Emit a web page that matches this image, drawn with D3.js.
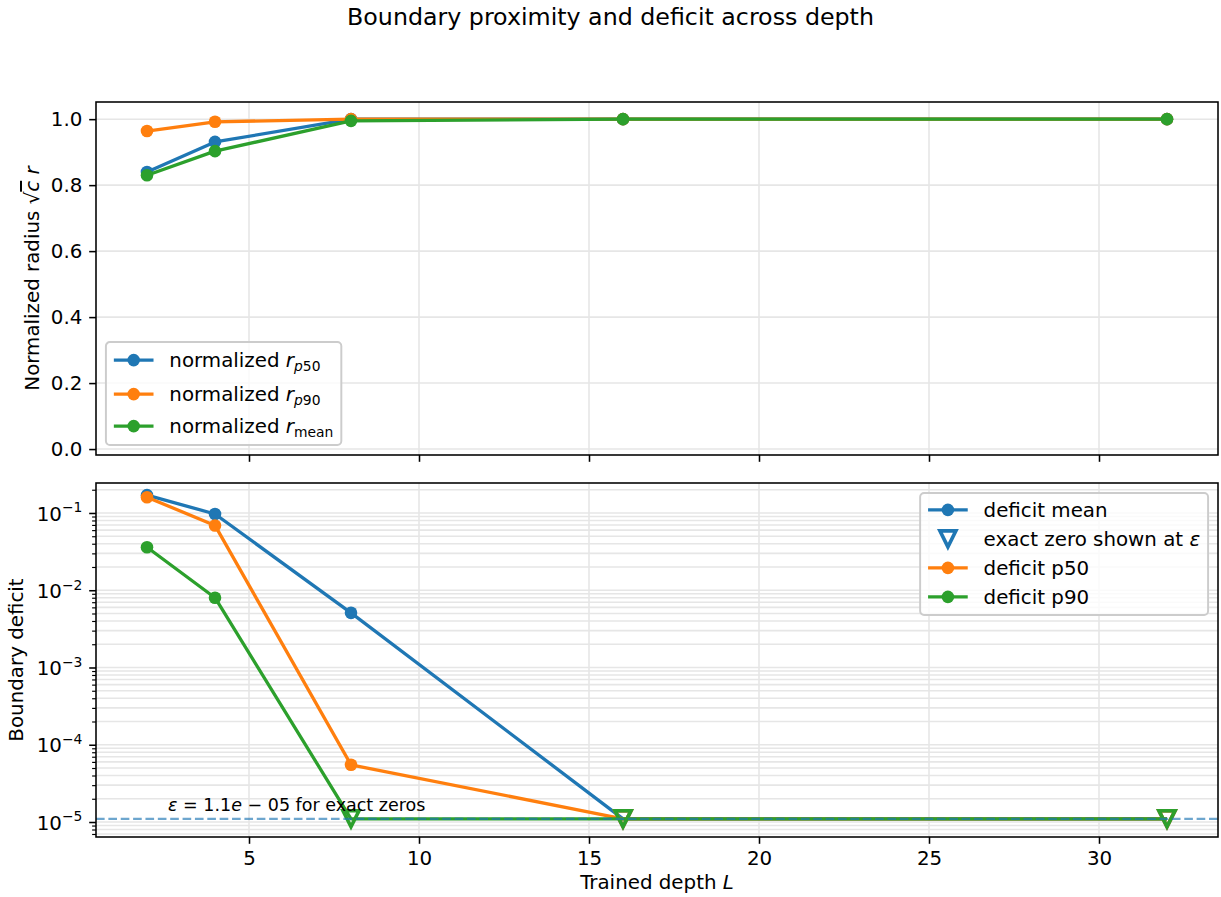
<!DOCTYPE html>
<html>
<head>
<meta charset="utf-8">
<script src="https://cdn.jsdelivr.net/npm/d3@7"></script>
<style>
  body { margin: 0; background: #fff; }
  text { font-family: "DejaVu Sans", sans-serif; fill: #000; }
</style>
</head>
<body>
<svg id="chart" width="1221" height="897"></svg>
<script>
// ---- data ----
const depths = [2, 4, 8, 16, 32];
const radiusP50 = [0.840, 0.931, 0.99995, 1.0, 1.0];
const radiusP90 = [0.964, 0.992, 1.0, 1.0, 1.0];
const radiusMean = [0.830, 0.903, 0.9949, 1.0, 1.0];
// exact zeros are drawn at epsilon
const deficitMean = [0.170, 0.097, 0.0051, 0, 0];
const deficitP50 = [0.160, 0.069, 5.5e-5, 0, 0];
const deficitP90 = [0.036, 0.0080, 0, 0, 0];
const epsilon = 1.1e-5;
const xTicks = [5, 10, 15, 20, 25, 30];
const radiusTicks = [0.0, 0.2, 0.4, 0.6, 0.8, 1.0];
const deficitTicks = [1e-5, 1e-4, 1e-3, 1e-2, 1e-1];
const colors = ["#1f77b4", "#ff7f0e", "#2ca02c"];

// ---- layout ----
const svg = d3.select("#chart");
const W = 1221, H = 897;
const left = 96, right = 1218;
const top1 = 102, bot1 = 455, top2 = 483, bot2 = 837;
const pt = 140 / 72;            // pixels per point
const fs = 10.2 * pt;           // base font size
const lw = 3.3, spineW = 0.8 * pt;
const markerR = 6.3;
const gridColor = "#e6e6e6";

const x = d3.scaleLinear().domain([0.5, 33.5]).range([left, right]);
const yR = d3.scaleLinear().domain([-0.018, 1.052]).range([bot1, top1]);
const yD = d3.scaleLog().domain([Math.pow(10, -5.194), Math.pow(10, -0.612)]).range([bot2, top2]);

// minor log ticks inside the visible range
const [dLo, dHi] = yD.domain();
const minorTicks = [];
for (let e = -6; e <= 0; e++) {
  for (let m = 2; m <= 9; m++) {
    const v = m * Math.pow(10, e);
    if (v >= dLo && v <= dHi) minorTicks.push(v);
  }
}

// ---- grids ----
const grid = svg.append("g").attr("stroke", gridColor).attr("stroke-width", 0.8 * pt);
[[top1, bot1], [top2, bot2]].forEach(([t, b]) => {
  grid.selectAll(null).data(xTicks).join("line")
    .attr("x1", d => x(d)).attr("x2", d => x(d)).attr("y1", t).attr("y2", b);
});
grid.selectAll(null).data(radiusTicks).join("line")
  .attr("x1", left).attr("x2", right).attr("y1", d => yR(d)).attr("y2", d => yR(d));
grid.selectAll(null).data(deficitTicks.concat(minorTicks)).join("line")
  .attr("x1", left).attr("x2", right).attr("y1", d => yD(d)).attr("y2", d => yD(d));

// ---- marker helpers ----
const tri = 8; // half size of the downward triangle
const triStroke = 3.6;
function triPath(cx, cy) {
  return `M${cx - tri},${cy - tri}L${cx + tri},${cy - tri}L${cx},${cy + tri}Z`;
}

// ---- top panel: normalized radius ----
const radiusSeries = [radiusP50, radiusP90, radiusMean];
const lineR = d3.line().x((d, i) => x(depths[i])).y(d => yR(d));
radiusSeries.forEach((vals, k) => {
  const g = svg.append("g");
  g.append("path").attr("d", lineR(vals)).attr("fill", "none")
    .attr("stroke", colors[k]).attr("stroke-width", lw).attr("stroke-linejoin", "round");
  g.selectAll("circle").data(vals).join("circle")
    .attr("cx", (d, i) => x(depths[i])).attr("cy", d => yR(d))
    .attr("r", markerR).attr("fill", colors[k]);
});

// ---- bottom panel: boundary deficit ----
const deficitSeries = [deficitMean, deficitP50, deficitP90];
const lineD = d3.line().x((d, i) => x(depths[i])).y(d => yD(d > 0 ? d : epsilon));
deficitSeries.forEach((vals, k) => {
  const g = svg.append("g");
  g.append("path").attr("d", lineD(vals)).attr("fill", "none")
    .attr("stroke", colors[k]).attr("stroke-width", lw).attr("stroke-linejoin", "round");
  const pts = vals.map((v, i) => ({ v, d: depths[i] }));
  g.selectAll("circle").data(pts.filter(p => p.v > 0)).join("circle")
    .attr("cx", p => x(p.d)).attr("cy", p => yD(p.v))
    .attr("r", markerR).attr("fill", colors[k]);
  g.selectAll("path.zero").data(pts.filter(p => p.v === 0)).join("path")
    .attr("class", "zero")
    .attr("d", p => triPath(x(p.d), yD(epsilon)))
    .attr("fill", "none").attr("stroke", colors[k]).attr("stroke-width", triStroke)
    .attr("stroke-linejoin", "miter");
});

// epsilon reference line
svg.append("line")
  .attr("x1", left).attr("x2", right).attr("y1", yD(epsilon)).attr("y2", yD(epsilon))
  .attr("stroke", colors[0]).attr("stroke-opacity", 0.65).attr("stroke-width", 1.2 * pt)
  .attr("stroke-dasharray", `${3.7 * 1.2 * pt},${1.6 * 1.2 * pt}`);

// epsilon annotation
const ann = svg.append("text")
  .attr("x", x(2.62)).attr("y", yD(epsilon * 1.28))
  .attr("font-size", 9 * pt);
ann.append("tspan").attr("font-style", "italic").text("ε");
ann.append("tspan").text(" = 1.1");
ann.append("tspan").attr("font-style", "italic").text("e");
ann.append("tspan").text(" − 05 for exact zeros");

// ---- axes ----
function styleAxis(g) {
  g.attr("font-family", "DejaVu Sans").attr("font-size", fs);
  g.select(".domain").remove();
  g.selectAll(".tick line").attr("stroke", "#000").attr("stroke-width", spineW);
  g.selectAll(".tick text").attr("fill", "#000");
}
const tickLen = 3.5 * pt, tickPad = 3.5 * pt;

// top panel x ticks (no labels)
svg.append("g").attr("transform", `translate(0,${bot1})`)
  .call(d3.axisBottom(x).tickValues(xTicks).tickSize(tickLen).tickFormat(""))
  .call(styleAxis);
// top panel y
svg.append("g").attr("transform", `translate(${left},0)`)
  .call(d3.axisLeft(yR).tickValues(radiusTicks).tickSize(tickLen).tickPadding(tickPad).tickFormat(d3.format(".1f")))
  .call(styleAxis);
// bottom panel x
svg.append("g").attr("transform", `translate(0,${bot2})`)
  .call(d3.axisBottom(x).tickValues(xTicks).tickSize(tickLen).tickPadding(tickPad).tickFormat(d3.format("d")))
  .call(styleAxis);
// bottom panel y (log) minor ticks
svg.append("g").attr("transform", `translate(${left},0)`)
  .call(d3.axisLeft(yD).tickValues(minorTicks).tickSize(2 * pt).tickFormat(""))
  .call(styleAxis)
  .call(g => g.selectAll(".tick line").attr("stroke-width", 0.6 * pt));
// bottom panel y (log) major ticks with superscript labels
const yDAxis = svg.append("g").attr("transform", `translate(${left},0)`)
  .call(d3.axisLeft(yD).tickValues(deficitTicks).tickSize(tickLen).tickPadding(tickPad).tickFormat(""))
  .call(styleAxis);
yDAxis.selectAll(".tick text").each(function (d) {
  const t = d3.select(this);
  const e = Math.round(Math.log10(d));
  t.text(null).attr("dy", "0.36em");
  t.append("tspan").text("10");
  t.append("tspan").attr("font-size", fs * 0.7).attr("dy", -0.42 * fs)
    .text((e < 0 ? "−" : "") + Math.abs(e));
});

// spines
[[top1, bot1], [top2, bot2]].forEach(([t, b]) => {
  svg.append("rect").attr("x", left).attr("y", t).attr("width", right - left).attr("height", b - t)
    .attr("fill", "none").attr("stroke", "#000").attr("stroke-width", spineW);
});

// ---- labels ----
svg.append("text").attr("x", W / 2).attr("y", 25).attr("text-anchor", "middle")
  .attr("font-size", 12.2 * pt).text("Boundary proximity and deficit across depth");

svg.append("text").attr("x", (left + right) / 2).attr("y", 889).attr("text-anchor", "middle")
  .attr("font-size", fs)
  .call(t => {
    t.append("tspan").text("Trained depth ");
    t.append("tspan").attr("font-style", "italic").text("L");
  });

const yl1 = svg.append("text")
  .attr("transform", `translate(39,${(top1 + bot1) / 2}) rotate(-90)`)
  .attr("text-anchor", "middle").attr("font-size", fs);
yl1.append("tspan").text("Normalized radius ");
yl1.append("tspan").text("√");
yl1.append("tspan").attr("font-style", "italic").attr("text-decoration", "overline").text("c");
yl1.append("tspan").text(" ");
yl1.append("tspan").attr("font-style", "italic").text("r");

svg.append("text")
  .attr("transform", `translate(23,${(top2 + bot2) / 2}) rotate(-90)`)
  .attr("text-anchor", "middle").attr("font-size", fs).text("Boundary deficit");

// ---- legends ----
const pad = 0.4 * fs, handleLen = 2.0 * fs, textPad = 0.8 * fs;
function legend(items, anchor, rowOffsets, boxH) {
  const g = svg.append("g");
  const frame = g.append("rect").attr("rx", 0.2 * fs).attr("ry", 0.2 * fs)
    .attr("fill", "#fff").attr("fill-opacity", 0.8)
    .attr("stroke", "#cccccc").attr("stroke-width", 1.0 * pt);
  const texts = items.map((it, i) => {
    const t = g.append("text").attr("font-size", fs).attr("y", rowOffsets[i] + 0.345 * fs);
    it.label(t);
    return t;
  });
  const maxW = d3.max(texts, t => t.node().getComputedTextLength());
  const boxW = pad + handleLen + textPad + maxW + pad;
  const bx = anchor.right !== undefined ? anchor.right - boxW : anchor.left;
  const by = anchor.bottom !== undefined ? anchor.bottom - boxH : anchor.top;
  g.attr("transform", `translate(${bx},${by})`);
  frame.attr("width", boxW).attr("height", boxH);
  texts.forEach(t => t.attr("x", pad + handleLen + textPad));
  items.forEach((it, i) => {
    const cy = rowOffsets[i], cx = pad + handleLen / 2;
    if (it.kind === "line") {
      g.append("line").attr("x1", pad).attr("x2", pad + handleLen).attr("y1", cy).attr("y2", cy)
        .attr("stroke", it.color).attr("stroke-width", lw);
      g.append("circle").attr("cx", cx).attr("cy", cy).attr("r", markerR).attr("fill", it.color);
    } else {
      g.append("path").attr("d", triPath(cx, cy)).attr("fill", "none")
        .attr("stroke", it.color).attr("stroke-width", triStroke);
    }
  });
}
function rLabel(sub, italicFirst) {
  return t => {
    t.append("tspan").text("normalized ");
    t.append("tspan").attr("font-style", "italic").text("r");
    const s = t.append("tspan").attr("font-size", fs * 0.7).attr("dy", 0.22 * fs);
    if (italicFirst) {
      s.append("tspan").attr("font-style", "italic").text(sub[0]);
      s.append("tspan").text(sub.slice(1));
    } else {
      s.text(sub);
    }
  };
}
legend([
  { kind: "line", color: colors[0], label: rLabel("p50", true) },
  { kind: "line", color: colors[1], label: rLabel("p90", true) },
  { kind: "line", color: colors[2], label: rLabel("mean", false) }
], { left: left + 0.5 * fs, bottom: bot1 - 0.5 * fs }, [18, 52, 84], 103);

legend([
  { kind: "line", color: colors[0], label: t => t.text("deficit mean") },
  { kind: "tri", color: colors[0], label: t => {
      t.append("tspan").text("exact zero shown at ");
      t.append("tspan").attr("font-style", "italic").text("ε");
    } },
  { kind: "line", color: colors[1], label: t => t.text("deficit p50") },
  { kind: "line", color: colors[2], label: t => t.text("deficit p90") }
], { right: right - 0.5 * fs, top: top2 + 0.5 * fs }, [17, 46, 75, 104], 122);
</script>
</body>
</html>
